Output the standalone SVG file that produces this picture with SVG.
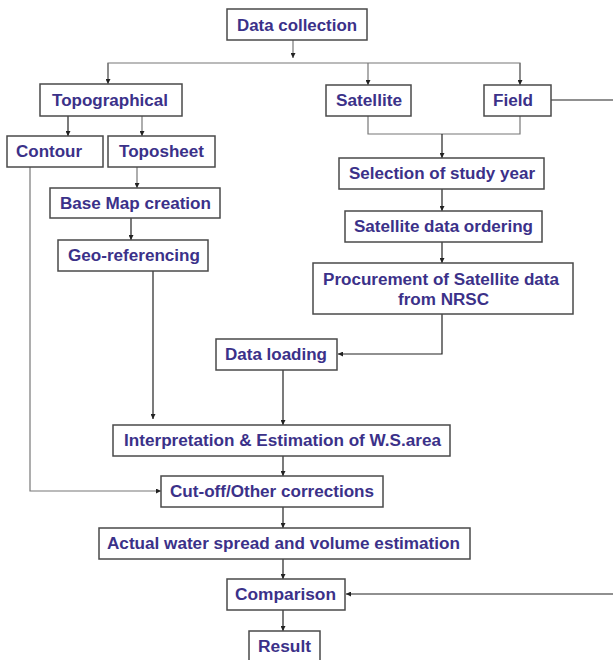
<svg xmlns="http://www.w3.org/2000/svg" width="613" height="660" viewBox="0 0 613 660">
<defs>
<style>
.box{fill:#fff;stroke:#4a4a4a;stroke-width:1.5}
.t{font-family:"Liberation Sans",Arial,sans-serif;font-weight:bold;font-size:16px;fill:#3b3189;text-anchor:middle}
.c{fill:none;stroke:#222;stroke-width:1.2}
.g{fill:none;stroke:#777;stroke-width:1.2}
</style>
<marker id="a" viewBox="0 0 6 6" refX="6" refY="3" markerWidth="5" markerHeight="5" markerUnits="userSpaceOnUse" orient="auto"><path d="M0,0L6,3L0,6z" fill="#222"/></marker>
</defs>
<rect width="613" height="660" fill="#fff"/>
<g id="connectors">
<path class="g" d="M293,40V58" marker-end="url(#a)"/>
<path class="g" d="M108,82V63H520V82"/>
<path class="g" d="M108,63V84" marker-end="url(#a)"/>
<path class="g" d="M368,63V85" marker-end="url(#a)"/>
<path class="g" d="M520,63V85" marker-end="url(#a)"/>
<path class="c" d="M68,116V136" marker-end="url(#a)"/>
<path class="g" d="M142,116V136" marker-end="url(#a)"/>
<path class="g" d="M137,167V188" marker-end="url(#a)"/>
<path class="c" d="M131,218V240" marker-end="url(#a)"/>
<path class="c" d="M153,271V419" marker-end="url(#a)"/>
<path class="g" d="M30,167V491H161" marker-end="url(#a)"/>
<path class="g" d="M368,116V134H520V116"/>
<path class="c" d="M442,134V158" marker-end="url(#a)"/>
<path class="c" d="M442,189V211" marker-end="url(#a)"/>
<path class="c" d="M442,242V263" marker-end="url(#a)"/>
<path class="c" d="M442,314V354H338" marker-end="url(#a)"/>
<path class="c" d="M551,100H613"/>
<path class="c" d="M283,370V425" marker-end="url(#a)"/>
<path class="c" d="M283,456V476" marker-end="url(#a)"/>
<path class="c" d="M283,507V528" marker-end="url(#a)"/>
<path class="c" d="M283,559V579" marker-end="url(#a)"/>
<path class="c" d="M283,610V631" marker-end="url(#a)"/>
<path class="c" d="M613,594H346" marker-end="url(#a)"/>
</g>
<g id="n-datacollection"><rect class="box" x="227" y="9" width="140" height="31"/><text class="t" x="297" y="30.5" textLength="120" lengthAdjust="spacingAndGlyphs">Data collection</text></g>
<g id="n-topographical"><rect class="box" x="40" y="84" width="142" height="32"/><text class="t" x="110" y="106" textLength="116" lengthAdjust="spacingAndGlyphs">Topographical</text></g>
<g id="n-satellite"><rect class="box" x="326" y="85" width="85" height="31"/><text class="t" x="369" y="106" textLength="66" lengthAdjust="spacingAndGlyphs">Satellite</text></g>
<g id="n-field"><rect class="box" x="484" y="85" width="67" height="31"/><text class="t" x="513" y="106" textLength="40" lengthAdjust="spacingAndGlyphs">Field</text></g>
<g id="n-contour"><rect class="box" x="7" y="136" width="96" height="31"/><text class="t" x="49" y="157" textLength="66" lengthAdjust="spacingAndGlyphs">Contour</text></g>
<g id="n-toposheet"><rect class="box" x="108" y="136" width="107" height="31"/><text class="t" x="161.5" y="157" textLength="85" lengthAdjust="spacingAndGlyphs">Toposheet</text></g>
<g id="n-basemap"><rect class="box" x="50" y="188" width="170" height="30"/><text class="t" x="135.5" y="209" textLength="151" lengthAdjust="spacingAndGlyphs">Base Map creation</text></g>
<g id="n-georef"><rect class="box" x="58" y="240" width="150" height="31"/><text class="t" x="134" y="261" textLength="132" lengthAdjust="spacingAndGlyphs">Geo-referencing</text></g>
<g id="n-selection"><rect class="box" x="339" y="158" width="205" height="31"/><text class="t" x="442" y="179" textLength="186" lengthAdjust="spacingAndGlyphs">Selection of study year</text></g>
<g id="n-ordering"><rect class="box" x="345" y="211" width="197" height="31"/><text class="t" x="443.5" y="232" textLength="179" lengthAdjust="spacingAndGlyphs">Satellite data ordering</text></g>
<g id="n-procurement"><rect class="box" x="313" y="263" width="260" height="51"/><text class="t" x="441" y="285" textLength="236" lengthAdjust="spacingAndGlyphs">Procurement of Satellite data</text><text class="t" x="443.5" y="305" textLength="91" lengthAdjust="spacingAndGlyphs">from NRSC</text></g>
<g id="n-dataloading"><rect class="box" x="216" y="339" width="121" height="31"/><text class="t" x="276" y="360" textLength="102" lengthAdjust="spacingAndGlyphs">Data loading</text></g>
<g id="n-interpretation"><rect class="box" x="113" y="425" width="337" height="31"/><text class="t" x="282.5" y="446" textLength="317" lengthAdjust="spacingAndGlyphs">Interpretation &amp; Estimation of W.S.area</text></g>
<g id="n-cutoff"><rect class="box" x="161" y="476" width="222" height="31"/><text class="t" x="272" y="497" textLength="204" lengthAdjust="spacingAndGlyphs">Cut-off/Other corrections</text></g>
<g id="n-actual"><rect class="box" x="99" y="528" width="371" height="31"/><text class="t" x="283.5" y="549" textLength="353" lengthAdjust="spacingAndGlyphs">Actual water spread and volume estimation</text></g>
<g id="n-comparison"><rect class="box" x="227" y="579" width="118" height="31"/><text class="t" x="285.5" y="600" textLength="101" lengthAdjust="spacingAndGlyphs">Comparison</text></g>
<g id="n-result"><rect class="box" x="249" y="631" width="71" height="32"/><text class="t" x="284.5" y="652" textLength="53" lengthAdjust="spacingAndGlyphs">Result</text></g>
</svg>
